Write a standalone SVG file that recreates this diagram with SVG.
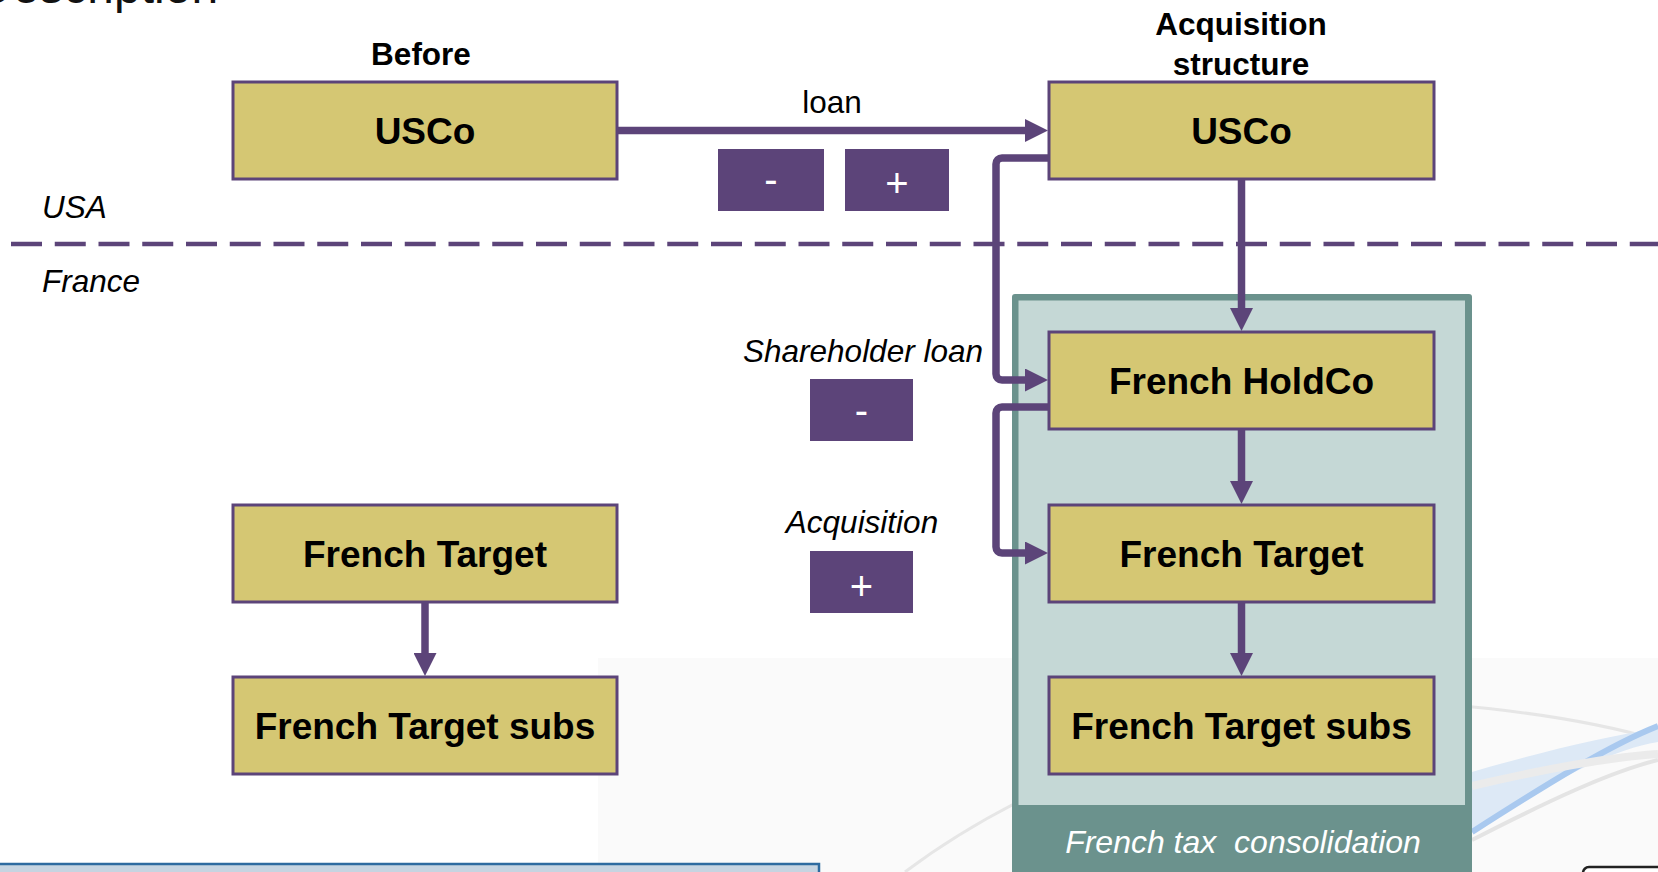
<svg xmlns="http://www.w3.org/2000/svg" width="1658" height="872" viewBox="0 0 1658 872">
  <defs>
    <style>
      .box { fill: #D5C773; stroke: #5C4479; stroke-width: 3; }
      .label { font-family: "Liberation Sans", Arial, sans-serif; font-weight: bold; font-size: 37px; fill: #000; text-anchor: middle; }
      .head { font-family: "Liberation Sans", Arial, sans-serif; font-weight: bold; font-size: 31.5px; fill: #000; text-anchor: middle; }
      .note { font-family: "Liberation Sans", Arial, sans-serif; font-style: italic; font-size: 31.5px; fill: #000; }
      .plain { font-family: "Liberation Sans", Arial, sans-serif; font-size: 31.5px; fill: #000; text-anchor: middle; }
      .sign { fill: #5C4479; }
      .signtxt { font-family: "Liberation Sans", Arial, sans-serif; font-size: 40px; fill: #FFFFFF; text-anchor: middle; }
      .wire { fill: none; stroke: #5C4479; stroke-width: 7.5; }
    </style>
    <marker id="head" viewBox="0 0 23 23" refX="1" refY="11.5" markerWidth="23" markerHeight="23" markerUnits="userSpaceOnUse" orient="auto">
      <path d="M0 0 L23 11.5 L0 23 Z" fill="#5C4479"/>
    </marker>
  </defs>

  <!-- slide backdrop -->
  <rect x="0" y="0" width="1658" height="872" fill="#FFFFFF"/>
  <rect x="598" y="658" width="1060" height="214" fill="#FAFAFA"/>
  <g id="swooshes" fill="none">
    <path d="M905 872 C1040 770 1260 690 1440 704 C1540 712 1610 726 1658 740" stroke="#E6E6E6" stroke-width="3"/>
    <path d="M1472 772 C1540 752 1600 738 1658 728 L1658 742 C1600 752 1540 790 1472 832 Z" fill="#DDE9F6" stroke="none"/>
    <path d="M1472 832 C1550 782 1610 745 1658 726" stroke="#A9C9EF" stroke-width="6"/>
    <path d="M1472 786 C1540 770 1600 758 1658 754" stroke="#EBEBEB" stroke-width="8"/>
    <path d="M1472 840 C1550 800 1610 772 1658 760" stroke="#E4E4E4" stroke-width="4"/>
  </g>
  <rect x="-5" y="864" width="824" height="30" fill="#C6D4E1" stroke="#2E6BA0" stroke-width="2.5"/>
  <rect x="1583" y="867" width="100" height="30" rx="6" fill="#FFFFFF" stroke="#222222" stroke-width="2.5"/>
  <text x="-22" y="3" font-family="'Liberation Sans', Arial, sans-serif" font-size="48" fill="#111111">Description</text>

  <!-- country divider -->
  <line x1="11" y1="244" x2="1658" y2="244" stroke="#5C4479" stroke-width="4.5" stroke-dasharray="31 12.75"/>
  <text class="note" x="42" y="218">USA</text>
  <text class="note" x="42" y="292">France</text>

  <!-- column headings -->
  <text class="head" x="421" y="65">Before</text>
  <text class="head" x="1241" y="35">Acquisition</text>
  <text class="head" x="1241" y="75">structure</text>

  <!-- tax consolidation group -->
  <g id="consolidation">
    <rect x="1012" y="294" width="460" height="600" rx="3" fill="#6B928D"/>
    <rect x="1018.5" y="300.5" width="446.5" height="504.5" fill="#C5D8D6"/>
    <text x="1243" y="853" font-family="'Liberation Sans', Arial, sans-serif" font-style="italic" font-size="32" fill="#FFFFFF" text-anchor="middle" style="white-space:pre">French tax  consolidation</text>
  </g>

  <!-- connectors -->
  <g id="connectors">
    <path class="wire" d="M617 130.5 H1026" marker-end="url(#head)"/>
    <path class="wire" d="M1241.5 179 V309" marker-end="url(#head)"/>
    <path class="wire" d="M1049 158 H1002 A6 6 0 0 0 996 164 V374 A6 6 0 0 0 1002 380 H1026" marker-end="url(#head)"/>
    <path class="wire" d="M1049 407 H1002 A6 6 0 0 0 996 413 V547 A6 6 0 0 0 1002 553 H1026" marker-end="url(#head)"/>
    <path class="wire" d="M1241.5 429 V482" marker-end="url(#head)"/>
    <path class="wire" d="M1241.5 602 V654" marker-end="url(#head)"/>
    <path class="wire" d="M425 602 V654" marker-end="url(#head)"/>
  </g>

  <!-- connector labels and signs -->
  <g id="loan-label">
    <text class="plain" x="832" y="113">loan</text>
    <rect class="sign" x="718" y="149" width="106" height="62"/>
    <text class="signtxt" x="771" y="193">-</text>
    <rect class="sign" x="845" y="149" width="104" height="62"/>
    <text class="signtxt" x="897" y="197">+</text>
  </g>
  <g id="shareholder-loan-label">
    <text class="note" x="863" y="362" text-anchor="middle">Shareholder loan</text>
    <rect class="sign" x="810" y="379" width="103" height="62"/>
    <text class="signtxt" x="861.5" y="424">-</text>
  </g>
  <g id="acquisition-label">
    <text class="note" x="862" y="533" text-anchor="middle">Acquisition</text>
    <rect class="sign" x="810" y="551" width="103" height="62"/>
    <text class="signtxt" x="861.5" y="600">+</text>
  </g>

  <!-- nodes: before -->
  <g id="usco-before">
    <rect class="box" x="233" y="82" width="384" height="97"/>
    <text class="label" x="425" y="144">USCo</text>
  </g>
  <g id="target-before">
    <rect class="box" x="233" y="505" width="384" height="97"/>
    <text class="label" x="425" y="567">French Target</text>
  </g>
  <g id="subs-before">
    <rect class="box" x="233" y="677" width="384" height="97"/>
    <text class="label" x="425" y="739">French Target subs</text>
  </g>

  <!-- nodes: acquisition structure -->
  <g id="usco-after">
    <rect class="box" x="1049" y="82" width="385" height="97"/>
    <text class="label" x="1241.5" y="144">USCo</text>
  </g>
  <g id="holdco">
    <rect class="box" x="1049" y="332" width="385" height="97"/>
    <text class="label" x="1241.5" y="394">French HoldCo</text>
  </g>
  <g id="target-after">
    <rect class="box" x="1049" y="505" width="385" height="97"/>
    <text class="label" x="1241.5" y="567">French Target</text>
  </g>
  <g id="subs-after">
    <rect class="box" x="1049" y="677" width="385" height="97"/>
    <text class="label" x="1241.5" y="739">French Target subs</text>
  </g>
</svg>
